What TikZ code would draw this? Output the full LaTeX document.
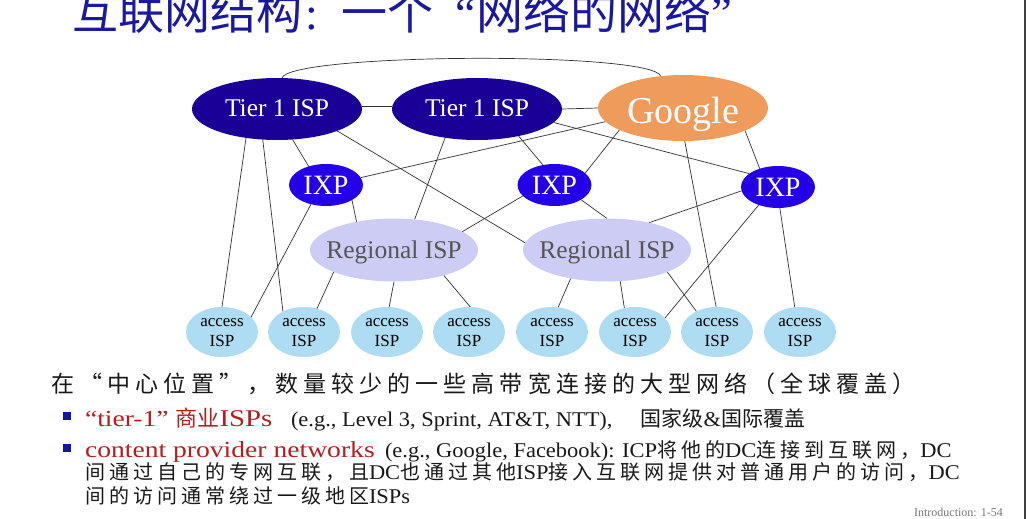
\documentclass[tikz,border=0pt]{standalone}
\usepackage{fontspec}
\setmainfont{Liberation Serif}
\newfontfamily\cjk{Noto Sans CJK SC}
\newfontfamily\cjkwide{Noto Sans CJK SC}[LetterSpace=22]
\newfontfamily\cjkmid{Noto Sans CJK SC}[LetterSpace=20]
\newfontfamily\serifR{Liberation Serif}[FakeStretch=1.2]
\newfontfamily\serifB{Liberation Serif}[FakeStretch=1.07]
\usetikzlibrary{shapes.geometric,backgrounds}
\definecolor{tierblue}{RGB}{26,0,150}
\definecolor{googorange}{RGB}{239,155,91}
\definecolor{ixpblue}{RGB}{36,0,232}
\definecolor{reglav}{RGB}{204,204,245}
\definecolor{accblue}{RGB}{173,220,243}
\definecolor{reggray}{RGB}{85,85,85}
\definecolor{titleblue}{RGB}{26,24,158}
\definecolor{txtred}{RGB}{180,30,30}
\definecolor{txtblack}{RGB}{25,25,25}
\definecolor{bulblue}{RGB}{20,20,160}
\definecolor{footgray}{RGB}{120,120,120}
\definecolor{edgegray}{RGB}{50,50,50}
\newcommand{\setfs}[1]{\fontsize{#1}{#1}\selectfont}
\newcommand{\zw}[2]{\makebox[0pt]{\raisebox{#1}[0pt][0pt]{#2}}}
\newcommand{\lat}{\serifB\setfs{21}}
\newcommand{\chn}{\cjkmid\setfs{20}}
\tikzset{
  netnode/.style={ellipse, inner sep=0pt, outer sep=0pt, draw=none},
  tier/.style={netnode, fill=tierblue, minimum width=170pt, minimum height=62pt, text=white, font=\setfs{25.5}},
  goog/.style={netnode, fill=googorange, minimum width=170pt, minimum height=66pt, text=white, font=\setfs{38}},
  ixp/.style={netnode, fill=ixpblue, minimum width=74pt, minimum height=42pt, text=white, font=\setfs{28}},
  reg/.style={netnode, fill=reglav, minimum width=168pt, minimum height=63pt, text=reggray, font=\setfs{25.5}},
  acc/.style={netnode, fill=accblue, minimum width=72pt, minimum height=50pt, text=black, font=\fontsize{17}{20}\selectfont},
  link/.style={draw=edgegray, line width=0.7pt},
  txt/.style={anchor=base west, inner sep=0pt, outer sep=0pt},
  bulletbox/.style={rectangle, fill=bulblue, minimum size=8pt, inner sep=0pt}
}
\begin{document}
\begin{tikzpicture}[x=1pt,y=-1pt]
\useasboundingbox (0,0) rectangle (1026,519);

% title
\node[txt, text=titleblue] (title) at (72,30) {\setfs{46}\cjk 互联网结构\rmfamily\setfs{46}\hspace{3pt}:\hspace{24pt}\cjk 一个\hspace{22pt}\rmfamily “\cjk\setfs{47}网络的网络\rmfamily ”};

% network nodes
\node[tier] (t1) at (277,109) {\zw{-8pt}{Tier 1 ISP}};
\node[tier] (t2) at (477,109) {\zw{-8pt}{Tier 1 ISP}};
\node[goog] (g) at (683,108) {\zw{-15pt}{Google}};
\node[ixp] (x1) at (326,185) {\zw{-9pt}{IXP}};
\node[ixp] (x2) at (554.5,185) {\zw{-9pt}{IXP}};
\node[ixp] (x3) at (778,187) {\zw{-9pt}{IXP}};
\node[reg] (r1) at (394,250) {\zw{-8.4pt}{Regional ISP}};
\node[reg] (r2) at (607,250) {\zw{-8.4pt}{Regional ISP}};
\foreach \i/\x in {1/222,2/304,3/387,4/469,5/552,6/635,7/717,8/800}{
  \node[acc] (a\i) at (\x,332) {\zw{-14.6pt}{\begin{tabular}[b]{@{}c@{}}access\\ISP\end{tabular}}};
}

\begin{scope}[on background layer]
\fill[white] (0,0) rectangle (1026,519);
\draw[line width=2pt, black!75] (1025,0) -- (1025,519);
\draw[link] (t1.81) .. controls +(8,-25) and +(-8,-25) .. (g.125);
\draw[link] (t1.2) -- (t2.178);
\draw[link] (t2.east) -- (g.west);
\draw[link] (t1.223) -- (a1.90);
\draw[link] (t1.245) -- (a2.136);
\draw[link] (t1.297) -- (x1.133);
\draw[link] (t1.340) -- (r2.175);
\draw[link] (t2.222) -- (r1.56);
\draw[link] (t2.327) -- (x2.120);
\draw[link] (t2.350) -- (x3.155);
\draw[link] (g.190) -- (x1.12);
\draw[link] (g.199) -- (x2.21);
\draw[link] (g.273) -- (a7.92);
\draw[link] (g.340) -- (x3.135);
\draw[link] (x1.232) -- (a1.27);
\draw[link] (x1.330) -- (r1.143);
\draw[link] (x2.199) -- (r1.15);
\draw[link] (x2.331) -- (r2.90);
\draw[link] (x3.186) -- (r2.33);
\draw[link] (x3.223) -- (a6.25);
\draw[link] (x3.275) -- (a8.102);
\draw[link] (r1.200) -- (a2.61);
\draw[link] (r1.270) -- (a3.85);
\draw[link] (r1.333) -- (a4.87);
\draw[link] (r2.218) -- (a5.76);
\draw[link] (r2.293) -- (a6.114);
\draw[link] (r2.340) -- (a7.135);
\end{scope}

% text block
\node[txt, text=txtblack] (l1) at (51,392) {\setfs{23}\cjkwide 在“中心位置”，数量较少的一些高带宽连接的大型网络（全球覆盖）};
\node[bulletbox] (b1) at (67,416) {};
\node[txt, text=txtred] (red1) at (85,426) {\serifR\setfs{23}“tier-1” \cjk\setfs{22}商业\serifR\setfs{24}ISPs};
\node[txt, text=txtblack] (blk1) at (291,426) {\lat(e.g., Level 3, Sprint, AT\&T, NTT),\hspace{28pt}\cjk\setfs{21}国家级\lat\&\cjk\setfs{21}国际覆盖};
\node[bulletbox] (b2) at (67,448) {};
\node[txt, text=txtred] (red2) at (85,457) {\serifR\setfs{23}content provider networks};
\node[txt, text=txtblack] (blk2) at (385,457) {\lat(e.g., Google, Facebook): ICP\chn 将他的\lat DC\chn 连接到互联网，\lat DC};
\node[txt, text=txtblack] (blk3) at (85,479) {\chn 间通过自己的专网互联，且\lat DC\chn 也通过其他\lat ISP\chn 接入互联网提供对普通用户的访问，\lat DC};
\node[txt, text=txtblack] (blk4) at (85,503) {\chn 间的访问通常绕过一级地区\lat ISPs};
\node[anchor=base east, inner sep=0pt, text=footgray] (foot) at (1003,516) {\setfs{12}Introduction: 1-54};
\end{tikzpicture}
\end{document}
